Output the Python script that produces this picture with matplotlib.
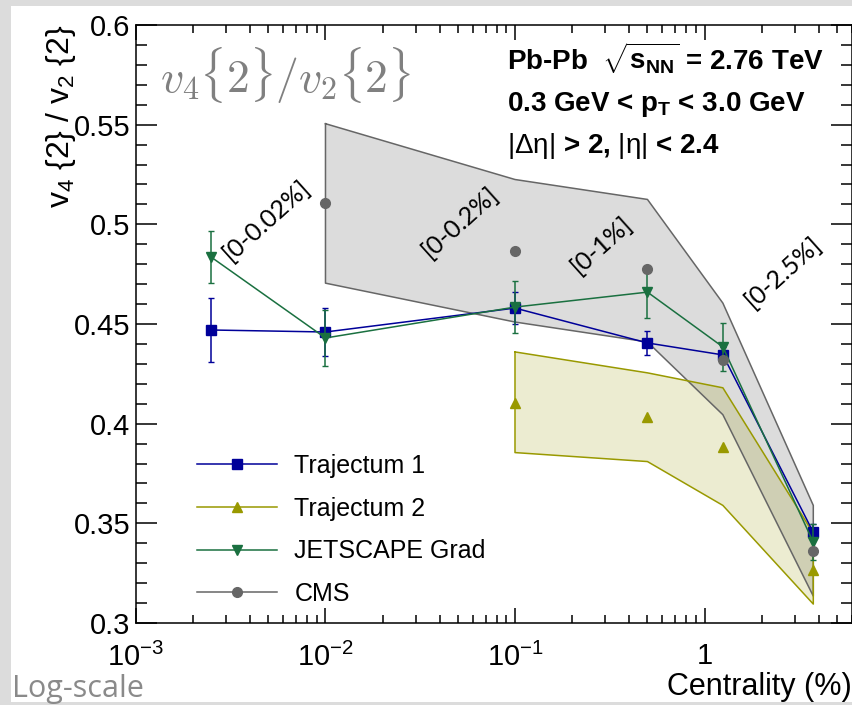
import numpy as np
import matplotlib
matplotlib.use("Agg")
import matplotlib.pyplot as plt
from matplotlib.lines import Line2D
from matplotlib.patches import Rectangle
from matplotlib.ticker import MultipleLocator, FuncFormatter, LogLocator, NullFormatter

plt.rcParams['font.family'] = ['Liberation Sans', 'DejaVu Sans']
plt.rcParams['mathtext.fontset'] = 'custom'
plt.rcParams['mathtext.rm'] = 'Liberation Sans'
plt.rcParams['mathtext.it'] = 'Liberation Sans:italic'
plt.rcParams['mathtext.bf'] = 'Liberation Sans:bold'
plt.rcParams['mathtext.default'] = 'regular'

# centrality bins (%)
centrality = [0.0025, 0.01, 0.1, 0.5, 1.25, 3.75]

traj1 = [0.447, 0.446, 0.458, 0.4405, 0.4345, 0.3455]
traj1_err = [0.016, 0.012, 0.008, 0.006, 0.004, 0.004]

jetscape = [0.4835, 0.443, 0.4585, 0.466, 0.4385, 0.3405]
jetscape_err = [0.013, 0.014, 0.013, 0.013, 0.012, 0.009]

traj2_cent = [0.1, 0.5, 1.25, 3.75]
traj2 = [0.4105, 0.4035, 0.3885, 0.3265]
traj2_lo = [0.3855, 0.381, 0.359, 0.3095]
traj2_hi = [0.436, 0.4255, 0.418, 0.345]

cms_cent = [0.01, 0.1, 0.5, 1.25, 3.75]
cms = [0.5105, 0.4865, 0.4775, 0.432, 0.336]
cms_lo = [0.4705, 0.451, 0.441, 0.4045, 0.3135]
cms_hi = [0.5505, 0.5225, 0.5125, 0.4605, 0.359]

bin_labels = ["[0-0.02%]", "[0-0.2%]", "[0-1%]", "[0-2.5%]"]
bin_label_x = [0.0049, 0.051, 0.287, 2.6]
bin_label_y = [0.502, 0.501, 0.4896, 0.476]

c_t1 = "#000099"
c_t2 = "#999900"
c_js = "#1a7040"
c_cms = "#666666"

fig = plt.figure(figsize=(8.53, 7.05), dpi=100)
fig.patch.set_facecolor("#dcdcdc")
fig.patches.append(Rectangle((11 / 853, 3 / 705), 1 - 11 / 853, 696 / 705,
                             transform=fig.transFigure, facecolor="white",
                             edgecolor="none", zorder=-10))
ax = fig.add_axes([0.1594, 0.1163, 0.8394, 0.8482])

# bands
ax.fill_between(cms_cent, cms_lo, cms_hi, facecolor="#777777", alpha=0.25,
                edgecolor="none", zorder=1)
ax.plot(cms_cent + cms_cent[::-1] + cms_cent[:1],
        cms_hi + cms_lo[::-1] + cms_hi[:1], color=c_cms, lw=1.1, zorder=2)
ax.fill_between(traj2_cent, traj2_lo, traj2_hi, facecolor=c_t2, alpha=0.18,
                edgecolor="none", zorder=1)
ax.plot(traj2_cent + traj2_cent[::-1] + traj2_cent[:1],
        traj2_hi + traj2_lo[::-1] + traj2_hi[:1], color=c_t2, lw=1.1, zorder=2)

# model points
ax.errorbar(centrality, traj1, yerr=traj1_err, color=c_t1, marker="s", ms=7,
            lw=1.1, capsize=2.5, elinewidth=1.1, zorder=4)
ax.plot(traj2_cent, traj2, ls="none", marker="^", ms=7, color=c_t2, zorder=4)
ax.errorbar(centrality, jetscape, yerr=jetscape_err, color=c_js, marker="v", ms=7,
            lw=1.1, capsize=2.5, elinewidth=1.1, zorder=5)
ax.plot(cms_cent, cms, ls="none", marker="o", ms=7, color=c_cms, zorder=6)

ax.set_xscale("log")
ax.set_xlim(1e-3, 6)
ax.set_ylim(0.3, 0.6)
ax.yaxis.set_major_locator(MultipleLocator(0.05))
ax.yaxis.set_minor_locator(MultipleLocator(0.01))
ax.yaxis.set_major_formatter(FuncFormatter(lambda v, p: f"{v:g}"))
ax.xaxis.set_major_locator(LogLocator(base=10))
ax.xaxis.set_minor_locator(LogLocator(base=10, subs=np.arange(2, 10)))
ax.xaxis.set_minor_formatter(NullFormatter())
ax.xaxis.set_major_formatter(FuncFormatter(
    lambda v, p: "1" if abs(v - 1) < 1e-9 else r"$10^{%d}$" % round(np.log10(v))))

ax.tick_params(axis="both", which="both", direction="in", top=True, right=True,
               width=1.1, labelsize=21)
ax.tick_params(axis="y", which="major", length=15, pad=4)
ax.tick_params(axis="y", which="minor", length=8)
ax.tick_params(axis="x", which="major", length=11, pad=14)
ax.tick_params(axis="x", which="minor", length=6)
for s in ax.spines.values():
    s.set_linewidth(1.1)

ax.set_ylabel(r"v$_4$ {2} / v$_2$ {2}", fontsize=23, loc="top", labelpad=-3)
ax.set_xlabel("Centrality (%)", fontsize=22, loc="right", labelpad=0.5)

ax.text(0.033, 0.965,
        r"$\mathit{v}_{\mathrm{4}}\mathrm{\{2\}/}\mathit{v}_{\mathrm{2}}\mathrm{\{2\}}$",
        transform=ax.transAxes, fontsize=33, color="#808080", math_fontfamily="cm",
        va="top", ha="left")

ax.text(0.518, 0.925, r"Pb-Pb  $\sqrt{\mathbf{s}_{\mathbf{NN}}}$ = 2.76 TeV",
        transform=ax.transAxes, fontsize=20, fontweight="bold", va="baseline")
ax.text(0.518, 0.857, "0.3 GeV < p$_T$ < 3.0 GeV",
        transform=ax.transAxes, fontsize=20, fontweight="bold", va="baseline")
ax.text(0.518, 0.786, r"$\mathrm{|\Delta\eta|}$ > 2, $\mathrm{|\eta|}$ < 2.4",
        transform=ax.transAxes, fontsize=20, fontweight="bold", va="baseline")

for lab, lx, ly in zip(bin_labels, bin_label_x, bin_label_y):
    ax.text(lx, ly, lab, rotation=42, fontsize=18, family=["Lato", "DejaVu Sans"],
            ha="center", va="center", rotation_mode="anchor", zorder=7)

handles = [
    Line2D([], [], color=c_t1, marker="s", ms=7, lw=1.1),
    Line2D([], [], color=c_t2, marker="^", ms=7, lw=1.1),
    Line2D([], [], color=c_js, marker="v", ms=7, lw=1.1),
    Line2D([], [], color=c_cms, marker="o", ms=7, lw=1.1),
]
ax.legend(handles, ["Trajectum 1", "Trajectum 2", "JETSCAPE Grad", "CMS"],
          loc="upper left", bbox_to_anchor=(0.085, 0.283), frameon=False,
          fontsize=18, handlelength=3.2, handletextpad=0.7, labelspacing=0.75,
          borderpad=0, borderaxespad=0)

fig.text(12 / 853, 8 / 705, "Log-scale", fontsize=22, color="#8a8a8a",
         family=["Open Sans", "DejaVu Sans"], va="baseline")

fig.savefig("out.png", dpi=100, facecolor=fig.get_facecolor())
